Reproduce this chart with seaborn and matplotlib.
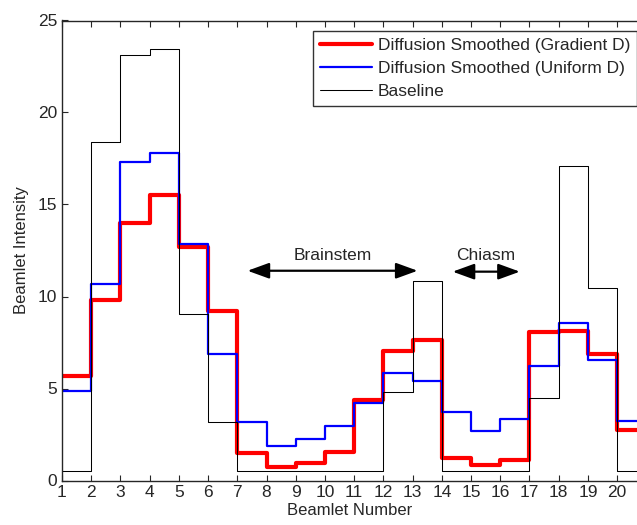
import numpy as np
import pandas as pd
import matplotlib
matplotlib.use("Agg")
import matplotlib.pyplot as plt
import seaborn as sns

# Datos (intensidad por beamlet 1..20)
beamlets = list(range(1, 21))
gradient_d = [5.7, 9.8, 14.0, 15.5, 12.7, 9.2, 1.5, 0.75, 0.95, 1.55,
              4.4, 7.05, 7.65, 1.2, 0.85, 1.1, 8.05, 8.1, 6.9, 2.75]
uniform_d = [4.85, 10.7, 17.3, 17.8, 12.85, 6.9, 3.2, 1.9, 2.25, 2.95,
             4.2, 5.85, 5.4, 3.7, 2.7, 3.35, 6.2, 8.55, 6.55, 3.25]
baseline = [0.5, 18.4, 23.1, 23.45, 9.05, 3.2, 0.5, 0.5, 0.5, 0.5,
            0.5, 4.8, 10.85, 0.5, 0.5, 0.5, 4.5, 17.1, 10.45, 0.5]

series = [
    ("Diffusion Smoothed (Gradient D)", gradient_d, "#ff0000", 3.0),
    ("Diffusion Smoothed (Uniform D)", uniform_d, "#0000ff", 1.6),
    ("Baseline", baseline, "black", 0.75),
]

sns.set_theme(style="white")
plt.rcParams["font.family"] = ["Liberation Sans", "DejaVu Sans"]
plt.rcParams["xtick.direction"] = "in"
plt.rcParams["ytick.direction"] = "in"

fig = plt.figure(figsize=(6.37, 5.25), dpi=100)
ax = fig.add_axes([62 / 637, 44.5 / 525, 1 - 62 / 637, 460 / 525])

for name, vals, color, lw in series:
    # repetimos el ultimo valor para cerrar el escalon
    df = pd.DataFrame({"x": beamlets + [beamlets[-1] + 1], "y": vals + [vals[-1]]})
    sns.lineplot(data=df, x="x", y="y", ax=ax, color=color, linewidth=lw,
                 drawstyle="steps-post", label=name)

ax.set_xlim(1, 20.68)
ax.set_ylim(0, 25)
ax.set_xticks(beamlets)
ax.set_yticks([0, 5, 10, 15, 20, 25])
ax.tick_params(axis="both", which="both", direction="in", length=4, width=0.8,
               labelsize=12.5, colors="#262626", top=True, left=True, bottom=True)
for s in ["left", "bottom", "top"]:
    ax.spines[s].set_color("#262626")
    ax.spines[s].set_linewidth(1.0)
ax.spines["right"].set_visible(False)

ax.set_xlabel("Beamlet Number", fontsize=12, color="#262626", labelpad=2)
ax.set_ylabel("Beamlet Intensity", fontsize=12, color="#262626", labelpad=6)

# Flechas de regiones
arrow = dict(arrowstyle="<|-|>,head_length=1.1,head_width=0.4", color="black", lw=1.6,
             shrinkA=0, shrinkB=0)
ax.annotate("", xy=(7.35, 11.4), xytext=(13.17, 11.4), arrowprops=arrow)
ax.annotate("", xy=(14.37, 11.35), xytext=(16.67, 11.35), arrowprops=arrow)
ax.text(10.26, 11.8, "Brainstem", ha="center", va="bottom", fontsize=12.5, color="#262626")
ax.text(15.5, 11.8, "Chiasm", ha="center", va="bottom", fontsize=12.5, color="#262626")

leg = ax.legend(loc="upper right", bbox_to_anchor=(1.0, 0.978), fontsize=12.5,
                frameon=True, fancybox=False, handlelength=3.0, handletextpad=0.35,
                borderpad=0.4, labelspacing=0.45, borderaxespad=0.0)
leg.get_frame().set_edgecolor("black")
leg.get_frame().set_linewidth(1.0)
for t in leg.get_texts():
    t.set_color("#262626")

fig.savefig("out.png", dpi=100)
